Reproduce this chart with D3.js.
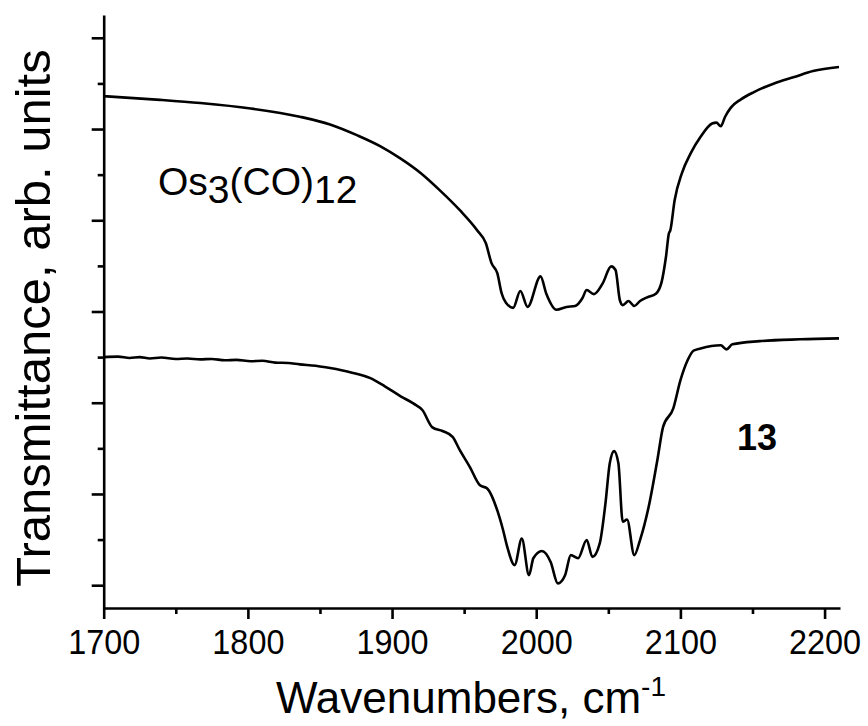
<!DOCTYPE html>
<html>
<head>
<meta charset="utf-8">
<script src="https://cdn.jsdelivr.net/npm/d3@7"></script>
<style>
  html, body { margin: 0; padding: 0; background: #fff; }
  svg { display: block; }
  text { font-family: "Liberation Sans", Arial, sans-serif; fill: #000; }
</style>
</head>
<body>
<svg id="chart" width="868" height="726"></svg>
<script>
// ---- data (wavenumber, cm-1) ----
const os3Wave = [1700,1739,1767,1802,1836,1857,1876,1892,1906,1920,1933,1947,1959,1965,1969,1973,1976,1979,1984,1989,1994,2003,2007,2014,2021,2027,2032,2035,2040,2046,2052,2055,2058,2060,2064,2068,2072,2077,2083,2087,2090,2092,2093,2096,2101,2107,2114,2122,2125,2128,2131,2135,2142,2151,2165,2179,2192,2210];
const os3Trans = [10.72,10.64,10.57,10.45,10.27,10.10,9.86,9.62,9.35,9.03,8.66,8.22,7.78,7.50,7.06,6.84,6.40,6.19,6.08,6.45,6.10,6.77,6.39,6.04,6.10,6.12,6.29,6.47,6.38,6.61,6.99,6.91,6.25,6.14,6.23,6.12,6.23,6.31,6.39,6.65,7.20,7.71,7.78,8.44,9.03,9.46,9.83,10.12,10.14,10.06,10.27,10.47,10.65,10.81,11.00,11.14,11.27,11.36];

const c13Wave = [1700,1710,1718,1725,1732,1740,1750,1758,1767,1775,1784,1792,1802,1810,1819,1828,1836,1847,1857,1871,1885,1895,1906,1915,1921,1928,1935,1942,1947,1954,1961,1966,1973,1977,1980,1985,1990,1995,1998,2004,2010,2015,2020,2024,2029,2035,2039,2044,2048,2051,2054,2057,2060,2063,2068,2072,2078,2084,2088,2095,2100,2105,2109,2114,2128,2132,2136,2155,2183,2210];
const c13Trans = [5.00,5.01,4.98,5.00,4.97,4.99,4.96,4.97,4.95,4.96,4.93,4.94,4.91,4.92,4.88,4.87,4.84,4.81,4.76,4.67,4.54,4.36,4.14,3.98,3.84,3.46,3.38,3.25,2.96,2.59,2.19,2.12,1.64,1.21,0.83,0.44,1.02,0.22,0.59,0.75,0.51,0.04,0.22,0.66,0.59,0.99,0.62,0.91,1.79,2.67,2.94,2.67,1.39,1.44,0.66,0.99,1.72,2.74,3.47,3.87,4.49,4.93,5.14,5.19,5.26,5.17,5.28,5.35,5.39,5.41];

const xMajorTicks = [1700,1800,1900,2000,2100,2200];
const xMinorTicks = [1750,1850,1950,2050,2150];
const yMajorTicks = [0,2,4,6,8,10,12];
const yMinorTicks = [1,3,5,7,9,11];

const seriesLabel = ["Os", "3", "(CO)", "12"];
const sampleLabel = "13";
const xTitle = "Wavenumbers, cm";
const yTitle = "Transmittance, arb. units";

// ---- layout ----
const svg = d3.select("#chart");
const x = d3.scaleLinear().domain([1700, 2210.7]).range([103.7, 840]);
const y = d3.scaleLinear().domain([-0.5, 12.5]).range([608, 15]);

// axes
const gx = svg.append("g").attr("transform", `translate(0,${y(-0.5)})`);
gx.call(d3.axisBottom(x).tickValues(xMajorTicks).tickSize(11).tickSizeOuter(0).tickPadding(9).tickFormat(d3.format("d")));
gx.append("g").call(d3.axisBottom(x).tickValues(xMinorTicks).tickSize(6).tickSizeOuter(0).tickFormat(""))
  .select(".domain").remove();

const gy = svg.append("g").attr("transform", `translate(${x(1700)},0)`);
gy.call(d3.axisLeft(y).tickValues(yMajorTicks).tickSize(12).tickSizeOuter(0).tickFormat(""));
gy.append("g").call(d3.axisLeft(y).tickValues(yMinorTicks).tickSize(6).tickSizeOuter(0).tickFormat(""))
  .select(".domain").remove();

svg.selectAll(".domain, .tick line").attr("stroke", "#000").attr("stroke-width", 2.6);
gx.selectAll(".tick text")
  .style("font-size", "36px")
  .style("font-family", '"Liberation Sans", Arial, sans-serif')
  .attr("fill", "#000")
  .attr("transform", "scale(0.9,1)");

// curves
const line = d3.line().x(d => x(d[0])).y(d => y(d[1])).curve(d3.curveMonotoneX);
const os3 = os3Wave.map((w, i) => [w, os3Trans[i]]);
const c13 = c13Wave.map((w, i) => [w, c13Trans[i]]);
[os3, c13].forEach(s => {
  svg.append("path").datum(s).attr("d", line)
    .attr("fill", "none").attr("stroke", "#000").attr("stroke-width", 2.6)
    .attr("stroke-linejoin", "round");
});

// labels
const lab = svg.append("text").attr("x", 158).attr("y", 195).style("font-size", "39px");
lab.append("tspan").text(seriesLabel[0]);
lab.append("tspan").attr("dy", 8).text(seriesLabel[1]);
lab.append("tspan").attr("dy", -8).text(seriesLabel[2]);
lab.append("tspan").attr("dy", 8).text(seriesLabel[3]);

svg.append("text").attr("x", 757).attr("y", 450).attr("text-anchor", "middle")
  .style("font-size", "36px").style("font-weight", "bold").text(sampleLabel);

// axis titles
const xt = svg.append("text").attr("x", 471).attr("y", 713).attr("text-anchor", "middle").style("font-size", "44px");
xt.append("tspan").text(xTitle);
xt.append("tspan").attr("dy", -17).style("font-size", "28px").text("-1");

svg.append("text").attr("transform", "translate(50,318) rotate(-90)").attr("text-anchor", "middle")
  .style("font-size", "49px").text(yTitle);
</script>
</body>
</html>
